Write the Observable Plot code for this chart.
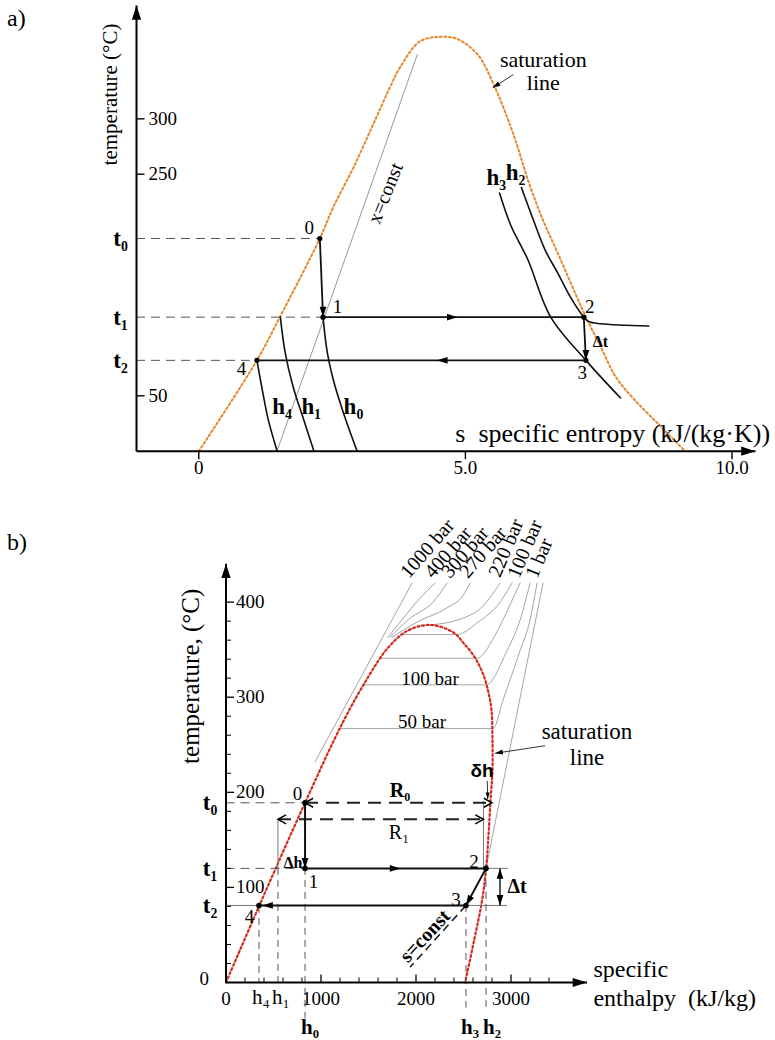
<!DOCTYPE html>
<html>
<head>
<meta charset="utf-8">
<script src="https://cdn.jsdelivr.net/npm/d3@7"></script>
<script src="https://cdn.jsdelivr.net/npm/@observablehq/plot@0.6"></script>
<style>
html,body{margin:0;padding:0;background:#fff;}
#wrap{position:relative;width:775px;height:1040px;overflow:hidden;background:#fff;}
.panel{position:absolute;left:0;}
.tag{position:absolute;left:7px;font:24px "Liberation Serif",serif;line-height:1;}
</style>
</head>
<body>
<div id="wrap">
  <div id="pa" class="panel" style="top:0"></div>
  <div id="pb" class="panel" style="top:515px"></div>
  <div class="tag" style="top:6px">a)</div>
  <div class="tag" style="top:530px">b)</div>
</div>
<script>
// ================= PANEL a) : T–s diagram =================
const xDomA = [-1.168, 10.44];
const yDomA = [0, 402.3];
const satA = [[0,0],[1.09,82],[1.52,121],[2.27,192],[2.52,220],[2.9,256],[3.27,295],[3.59,329],[3.78,347],[4.15,370],[4.53,374],[4.85,372],[5.23,358],[5.53,331],[5.9,286],[6.2,241],[6.46,208],[6.73,179],[7.26,121],[7.54,94],[7.82,67],[8.16,47],[8.67,22],[9.12,0]];
const xConstA = [[1.466,0],[4.098,358]];
const h4A = [[1.09,82],[1.2,53],[1.3,29],[1.47,0]];
const h1A = [[1.53,121],[1.62,89],[1.77,58],[1.95,31],[2.16,0]];
const h0A = [[2.33,121],[2.41,89],[2.52,65],[2.71,35],[2.97,0]];
const h3A = [[5.64,233],[5.85,204],[6.17,173],[6.6,121],[7.26,82],[7.91,48]];
const h2A = [[6.05,238],[6.28,208],[6.5,181],[6.73,161],[6.97,139],[7.22,121],[7.31,117],[7.54,115],[8.44,113]];
const ptNameA = ["0","1","2","3","4"];
const ptSA = [2.27, 2.33, 7.22, 7.26, 1.09];
const ptTA = [192, 121, 121, 82, 82];
const ptLabSA = [2.07, 2.6, 7.33, 7.19, 0.8];
const ptLabTA = [202, 130, 130, 71, 74];
const segIdxA = [[0,1],[1,2],[2,3],[3,4]];
const tValA = [192, 121, 82];
const tNameA = ["t₀", "t₁", "t₂"];
const tEndA = [2.27, 2.33, 1.09];
const hNameA = ["h₄", "h₁", "h₀", "h₃", "h₂"];
const hLabSA = [1.56, 2.11, 2.9, 5.58, 5.94];
const hLabTA = [40, 40, 40, 247, 251];
const yTickA = [300, 250, 50];
const xTickA = [0, 5, 10];
const xTickLabA = ["0", "5.0", "10.0"];
const headRightA = [[4.85, 121]];
const headLeftA = [[4.47, 82]];
const satPtrA = [[5.9, 340, 5.51, 328]];
const satLabA = [["saturation", 6.46, 353], ["line", 6.46, 332]];
const axisLabXA = [["s  specific entropy (kJ/(kg·K))", 4.81, 16]];
const axisLabYA = [["temperature (°C)", -1.655, 322]];
const xConstLabA = [["x=const", 3.5, 233]];
const dtLabA = [["Δt", 7.53, 99]];

// ================= PANEL b) : T–h diagram =================
const xDomB = [0, 3800];
const yDomB = [0, 440.3];
const satB = [[0,0],[347,80],[832,189],[1237,275],[1495,321],[1705,352],[1911,370],[2153,376],[2395,368],[2500,357],[2605,344],[2700,326],[2763,305],[2795,286],[2805,255],[2805,223],[2785,192],[2763,155],[2737,119],[2695,86],[2611,44],[2516,0]];
const p1000B = [[937,232],[1958,420]];
const p400B = [[1705,363],[1832,379],[2042,404],[2200,420]];
const p300B = [[1726,363],[1937,383],[2179,400],[2326,420]];
const p270B = [[1747,363],[2011,379],[2326,394],[2495,407],[2568,420]];
const p220B = [[2147,376],[2463,382],[2695,395],[2884,420]];
const p200B = [[1850,366],[2432,366],[2653,379],[2863,397],[3011,420]];
const p150B = [[1630,341],[2642,341],[2832,365],[2989,397],[3095,420]];
const p100B = [[1450,313],[2737,313],[2958,349],[3095,381],[3200,420]];
const p50B = [[1195,267],[2811,267],[2916,297],[3095,349],[3200,381],[3274,420]];
const pVapB = [[2737,120],[3337,420]];
const presLeftB = [["1000 bar",1926,424],["400 bar",2179,424],["300 bar",2358,424],["270 bar",2547,424]];
const presRightB = [["220 bar",2884,425],["100 bar",3084,424],["1 bar",3274,424]];
const presMidB = [["100 bar",2147,319],["50 bar",2063,274]];
const ptNameB = ["0","1","2","3","4"];
const ptHB = [832, 832, 2737, 2526, 347];
const ptTB = [189, 120, 120, 81, 81];
const ptLabHB = [753, 921, 2611, 2421, 247];
const ptLabTB = [198, 106, 127, 87, 69];
const segIdxB = [[0,1],[1,2],[2,3],[3,4]];
const tValB = [189, 120];
const tEndB = [832, 832];
const tNameB = ["t₀", "t₁", "t₂"];
const tLabValB = [189, 120, 81];
const thinB = [[0,81,347,81],[2737,120,2968,120],[2526,81,2958,81],[547,120,547,171.6],[2710,121,2710,191]];
const dropB = [[347,80,0],[547,120,0],[832,120,-38],[2526,81,-27],[2737,120,-27]];
const sConstB = [[2526,81,1937,16]];
const R0B = [[832,189,2800,189]];
const R1B = [[547,171.6,2710,171.6]];
const dtB = [[2884,120,2884,81]];
const dhPtrB = [[2750,212,2755,193]];
const satPtrB = [[3358,249,2832,241]];
const hNameRegB = [["h₄",368,-16],["h₁",579,-16]];
const hNameBoldB = [["h₀",884,-47],["h₃",2568,-47],["h₂",2800,-47]];
const yTickMajB = [100, 200, 300, 400];
const yTickMinB = [20,40,60,80,120,140,160,180,220,240,260,280,320,340,360,380];
const xTickMajB = [1000, 2000, 3000];
const xTickMinB = [200,400,600,800,1200,1400,1600,1800,2200,2400,2600,2800,3200,3400];
const satLabB = [["saturation",3800,264],["line",3800,237]];
const axisLabXB = [["specific",3868,14],["enthalpy  (kJ/kg)",3868,-17]];
const axisLabYB = [["temperature, (°C)",-368,322]];
const boldLabB = [["R₀",1832,202],["Δt",3063,101]];
const R1LabB = [["R₁",1821,158]];
const dhLabB = [["δh",2695,222]];
const DhLabB = [["Δh",705,126]];
const sConstLabB = [["s=const",2095,49]];

// ================= helpers =================
const X = d => d[0], Y = d => d[1];
const SERIF = "Liberation Serif", SANS = "Liberation Sans";
const tri = {draw(c, size) { const r = Math.sqrt(size / Math.PI); c.moveTo(0, 0); c.lineTo(-0.42 * r, 1.3 * r); c.lineTo(0.42 * r, 1.3 * r); c.closePath(); }};
const chev = {draw(c, size) { const r = Math.sqrt(size / Math.PI); c.moveTo(-0.5 * r, 0.9 * r); c.lineTo(0, 0); c.lineTo(0.5 * r, 0.9 * r); }};
const tick = {draw(c, size) { const r = Math.sqrt(size / Math.PI); c.moveTo(0, 0); c.lineTo(0, -r); }};
const head = (data, rotate, r = 9) => Plot.dot(data, {x: X, y: Y, symbol: tri, r, rotate, fill: "#000", stroke: "none"});
const chevron = (data, rotate) => Plot.dot(data, {x: X, y: Y, symbol: chev, r: 9, rotate, fill: "none", stroke: "#000", strokeWidth: 1.5});
const seg = (data, opts) => Plot.link(data, {x1: d => d[0], y1: d => d[1], x2: d => d[2], y2: d => d[3], ...opts});
const label = (data, opts) => Plot.text(data, {x: d => d[1], y: d => d[2], text: d => d[0], fontFamily: SERIF, ...opts});
const ptSeg = (idx, xs, ys) => idx.map(([a, b]) => [xs[a], ys[a], xs[b], ys[b]]);

// ================= plot a =================
const plotA = Plot.plot({
  width: 775, height: 490,
  marginLeft: 136, marginRight: 20, marginTop: 5, marginBottom: 39.3,
  x: {domain: xDomA, axis: null},
  y: {domain: yDomA, axis: null},
  style: {fontFamily: SERIF, background: "white", overflow: "visible"},
  marks: [
    Plot.line(xConstA, {x: X, y: Y, stroke: "#8c8c8c", strokeWidth: 0.9}),
    Plot.line(satA, {x: X, y: Y, curve: "catmull-rom", stroke: "#e8872d", strokeWidth: 2, strokeDasharray: "2,2.6"}),
    ...[h4A, h1A, h0A, h3A, h2A].map(c => Plot.line(c, {x: X, y: Y, curve: "catmull-rom", stroke: "#111", strokeWidth: 1.6})),
    Plot.ruleY(tValA, {x1: () => xDomA[0], x2: (d, i) => tEndA[i], stroke: "#555", strokeWidth: 1, strokeDasharray: "9,6"}),
    seg(ptSeg(segIdxA, ptSA, ptTA), {stroke: "#111", strokeWidth: 1.8}),
    head([1, 3].map(i => [ptSA[i], ptTA[i]]), 180, 8),
    head(headRightA, 90, 8),
    head(headLeftA, -90, 8),
    Plot.dot(ptSA, {x: d => d, y: (d, i) => ptTA[i], r: 2.6, fill: "#000"}),
    Plot.text(ptSA, {x: (d, i) => ptLabSA[i], y: (d, i) => ptLabTA[i], text: (d, i) => ptNameA[i], fontSize: 19, fontFamily: SERIF}),
    Plot.text(hNameA, {x: (d, i) => hLabSA[i], y: (d, i) => hLabTA[i], text: d => d, fontSize: 23, fontWeight: "bold", fontFamily: SERIF}),
    Plot.text(tValA, {x: () => xDomA[0], y: d => d, dx: -16, text: (d, i) => tNameA[i], fontSize: 23, fontWeight: "bold", fontFamily: SERIF}),
    // axes
    seg([[xDomA[0], 0, xDomA[0], yDomA[1]]], {stroke: "#000", strokeWidth: 2}),
    seg([[xDomA[0], 0, xDomA[1], 0]], {stroke: "#000", strokeWidth: 2}),
    head([[xDomA[0], yDomA[1]]], 0, 11),
    head([[xDomA[1], 0]], 90, 11),
    Plot.dot(yTickA, {x: () => xDomA[0], y: d => d, symbol: tick, r: 8, rotate: 90, stroke: "#000", strokeWidth: 1.4, fill: "none"}),
    Plot.text(yTickA, {x: () => xDomA[0], y: d => d, dx: 12, text: d => String(d), textAnchor: "start", fontSize: 19, fontFamily: SERIF}),
    Plot.dot(xTickA, {x: d => d, y: () => 0, symbol: tick, r: 8, rotate: 180, stroke: "#000", strokeWidth: 1.4, fill: "none"}),
    Plot.text(xTickA, {x: d => d, y: () => 0, dy: 17, text: (d, i) => xTickLabA[i], fontSize: 19, fontFamily: SERIF}),
    // annotations
    seg(satPtrA, {stroke: "#333", strokeWidth: 1}),
    head(satPtrA.map(d => [d[2], d[3]]), -122, 6),
    label(satLabA, {fontSize: 22}),
    label(axisLabXA, {fontSize: 26, textAnchor: "start"}),
    label(axisLabYA, {fontSize: 21, rotate: -90}),
    label(xConstLabA, {fontSize: 20, rotate: -68}),
    label(dtLabA, {fontSize: 16, fontWeight: "bold"})
  ]
});
document.getElementById("pa").append(plotA);

// ================= plot b =================
const isobarsB = [p1000B, p400B, p300B, p270B, p220B, p200B, p150B, p100B, p50B, pVapB];
const plotB = Plot.plot({
  width: 775, height: 525,
  marginLeft: 225.5, marginRight: 188.5, marginTop: 48.3, marginBottom: 58,
  x: {domain: xDomB, axis: null},
  y: {domain: yDomB, axis: null},
  style: {fontFamily: SERIF, background: "white", overflow: "visible"},
  marks: [
    ...isobarsB.map(c => Plot.line(c, {x: X, y: Y, curve: "monotone-x", stroke: "#9a9a9a", strokeWidth: 0.9})),
    Plot.line(satB, {x: X, y: Y, curve: "catmull-rom", stroke: "#d42a1e", strokeWidth: 2.2, strokeDasharray: "2,2.6"}),
    label(presLeftB, {fontSize: 20, rotate: -49, textAnchor: "start", lineAnchor: "bottom"}),
    label(presRightB, {fontSize: 20, rotate: -67, textAnchor: "start", lineAnchor: "bottom"}),
    label(presMidB, {fontSize: 19}),
    // helper lines
    seg(thinB, {stroke: "#777", strokeWidth: 1}),
    Plot.ruleY(tValB, {x1: () => 0, x2: (d, i) => tEndB[i], stroke: "#555", strokeWidth: 1, strokeDasharray: "9,6"}),
    Plot.ruleX(dropB, {x: d => d[0], y1: d => d[1], y2: d => d[2], stroke: "#555", strokeWidth: 1, strokeDasharray: "7,5"}),
    seg(sConstB, {stroke: "#222", strokeWidth: 1.6, strokeDasharray: "8,5"}),
    seg(R0B, {stroke: "#222", strokeWidth: 2, strokeDasharray: "13,8"}),
    seg(R1B, {stroke: "#222", strokeWidth: 2, strokeDasharray: "13,8"}),
    chevron([[R0B[0][0], R0B[0][1]], [R1B[0][0], R1B[0][1]]], -90),
    chevron([[R0B[0][2], R0B[0][3]], [R1B[0][2], R1B[0][3]]], 90),
    // process
    seg(ptSeg(segIdxB, ptHB, ptTB), {stroke: "#111", strokeWidth: 2}),
    head([[ptHB[1], ptTB[1]]], 180, 8),
    head([[1834, 120]], 90, 8),
    head([[384, 81]], -90, 8),
    head([[ptHB[3], ptTB[3]]], -151, 8),
    seg(dtB, {stroke: "#111", strokeWidth: 1.4}),
    head(dtB.map(d => [d[0], d[1]]), 0, 8),
    head(dtB.map(d => [d[2], d[3]]), 180, 8),
    Plot.dot(ptHB, {x: d => d, y: (d, i) => ptTB[i], r: 2.8, fill: "#000"}),
    Plot.text(ptHB, {x: (d, i) => ptLabHB[i], y: (d, i) => ptLabTB[i], text: (d, i) => ptNameB[i], fontSize: 19, fontFamily: SERIF}),
    Plot.text(tLabValB, {x: () => 0, y: d => d, dx: -16, text: (d, i) => tNameB[i], fontSize: 23, fontWeight: "bold", fontFamily: SERIF}),
    // axes
    seg([[0, 0, 0, yDomB[1]]], {stroke: "#000", strokeWidth: 2}),
    seg([[0, 0, xDomB[1], 0]], {stroke: "#000", strokeWidth: 2}),
    head([[0, yDomB[1]]], 0, 11),
    head([[xDomB[1], 0]], 90, 11),
    Plot.dot(yTickMajB, {x: () => 0, y: d => d, symbol: tick, r: 8, rotate: 90, stroke: "#000", strokeWidth: 1.3, fill: "none"}),
    Plot.dot(yTickMinB, {x: () => 0, y: d => d, symbol: tick, r: 5, rotate: 90, stroke: "#000", strokeWidth: 1, fill: "none"}),
    Plot.dot(xTickMajB, {x: d => d, y: () => 0, symbol: tick, r: 8, stroke: "#000", strokeWidth: 1.3, fill: "none"}),
    Plot.dot(xTickMinB, {x: d => d, y: () => 0, symbol: tick, r: 5, stroke: "#000", strokeWidth: 1, fill: "none"}),
    Plot.text(yTickMajB, {x: () => 0, y: d => d, dx: 10, text: d => String(d), textAnchor: "start", fontSize: 19, fontFamily: SERIF}),
    Plot.text([0], {x: () => 0, y: () => 0, dx: -17, dy: -4, text: () => "0", textAnchor: "end", fontSize: 19, fontFamily: SERIF}),
    Plot.text([0, ...xTickMajB], {x: d => d, y: () => 0, dy: 16, text: d => String(d), fontSize: 19, fontFamily: SERIF}),
    // annotations
    label(hNameRegB, {fontSize: 21}),
    label(hNameBoldB, {fontSize: 21, fontWeight: "bold"}),
    label(boldLabB, {fontSize: 20, fontWeight: "bold"}),
    label(R1LabB, {fontSize: 20}),
    label(dhLabB, {fontSize: 19, fontWeight: "bold", fontFamily: SANS}),
    label(DhLabB, {fontSize: 16, fontWeight: "bold"}),
    label(sConstLabB, {fontSize: 20, fontWeight: "bold", rotate: -47}),
    seg(dhPtrB, {stroke: "#333", strokeWidth: 1}),
    head(dhPtrB.map(d => [d[2], d[3]]), 180, 5),
    seg(satPtrB, {stroke: "#333", strokeWidth: 1}),
    head(satPtrB.map(d => [d[2], d[3]]), -99, 6),
    label(satLabB, {fontSize: 23}),
    label(axisLabXB, {fontSize: 24, textAnchor: "start"}),
    label(axisLabYB, {fontSize: 25, rotate: -90})
  ]
});
document.getElementById("pb").append(plotB);
</script>
</body>
</html>
